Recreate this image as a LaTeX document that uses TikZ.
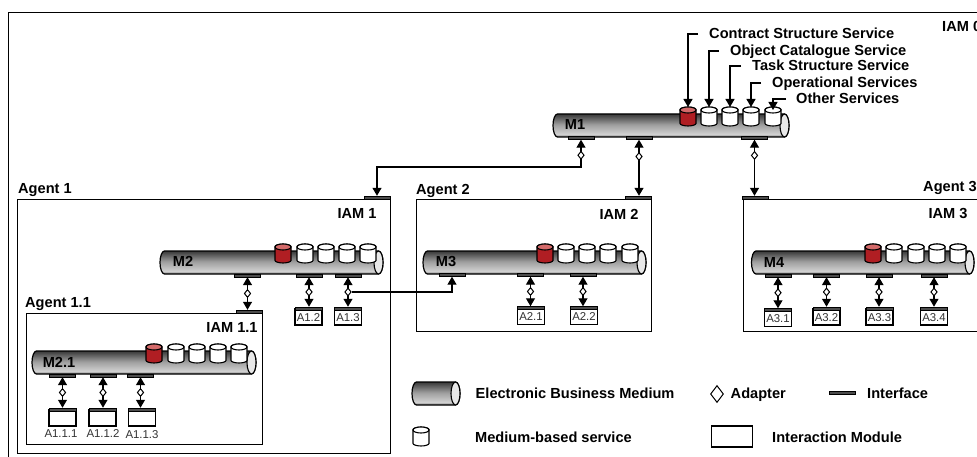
\documentclass[tikz,border=0pt]{standalone}
\usepackage{fontspec}
\setmainfont{Liberation Sans}
\usetikzlibrary{arrows.meta,shapes.geometric}
\definecolor{gA}{gray}{0.45}
\definecolor{gB}{gray}{0.82}
\definecolor{gC}{gray}{0.62}
\definecolor{gD}{gray}{0.22}
\definecolor{svcred}{HTML}{B01E23}
\definecolor{svcredtop}{HTML}{D46A6A}
\pgfdeclareverticalshading{tubeshade}{100bp}{color(0bp)=(gA);color(25bp)=(gA);color(31bp)=(gB);color(52bp)=(gC);color(75bp)=(gD);color(100bp)=(gD)}
\tikzset{
  lbl/.style={font=\bfseries\fontsize{14.6}{16}\selectfont,inner sep=0pt,text height=10.5pt,text depth=1pt},
  modlbl/.style={font=\fontsize{11.4}{13}\selectfont,inner sep=0pt,text height=8.2pt,text depth=0pt,text=black!80},
  box/.style={draw=black,line width=1.2pt},
  ifc/.style={draw=black,fill=gray!60!black,line width=.6pt,inner sep=0pt,minimum height=2.8pt,minimum width=26pt},
  module/.style={draw=black,fill=white,line width=1.1pt,inner sep=0pt,minimum width=27pt,minimum height=16pt,font=\fontsize{11.4}{13}\selectfont,text=black!80,text height=8.2pt,text depth=0pt},
  adapter/.style={diamond,draw=black,fill=white,line width=1pt,inner sep=0pt,minimum width=6.5pt,minimum height=8pt},
  conn/.style={draw=black,line width=1.2pt},
  both/.style={conn,{Triangle[length=8pt,width=9pt]}-{Triangle[length=8pt,width=9pt]}},
  tip/.style={conn,-{Triangle[length=8pt,width=9pt]}},
  tipstart/.style={conn,{Triangle[length=8pt,width=9pt]}-},
}
\newcommand{\tube}[4]{%
  \shade[shading=tubeshade,draw=black,line width=1.2pt]
    ({#1+4.5},#3) -- ({#2-4.5},#3) arc[start angle=-90,end angle=90,x radius=4.5,y radius={(#4-#3)/2}]
    -- ({#1+4.5},#4) arc[start angle=90,end angle=270,x radius=4.5,y radius={(#4-#3)/2}] -- cycle;
  \draw[line width=1.1pt,fill=gray!18] ({#2-4.5},{(#3+#4)/2}) ellipse[x radius=4.5,y radius={(#4-#3)/2}];
}
\newcommand{\cyl}[5]{% name, cx, top, body, lid
  \coordinate (#1) at (#2,#3);
  \draw[line width=1.1pt,fill=#4,rounded corners=.5pt]
    ({#2-8},{#3+3}) -- ({#2-8},{#3+16}) arc[start angle=180,end angle=0,x radius=8,y radius=3]
    -- ({#2+8},{#3+3}) arc[start angle=0,end angle=-180,x radius=8,y radius=3] -- cycle;
  \draw[line width=1.1pt,fill=#5] (#2,{#3+3}) ellipse[x radius=8,y radius=3];
}
\newcommand{\services}[7]{% prefix, x1..x5, top
  \cyl{#1a}{#2}{#7}{svcred}{svcredtop}
  \cyl{#1b}{#3}{#7}{white}{white}
  \cyl{#1c}{#4}{#7}{white}{white}
  \cyl{#1d}{#5}{#7}{white}{white}
  \cyl{#1e}{#6}{#7}{white}{white}
}
% interaction module with its interface bar on the top edge
\newcommand{\imod}[4]{%
  \node[module] (#1) at (#2,#3) {#4};
  \node[ifc,minimum width=27pt] (#1bar) at (#1.north) {};
}
% from-node, to-node, adapter name, adapter fractional position
\newcommand{\link}[4]{%
  \draw[both] (#1.south) -- (#1.south |- #2.north) node[adapter,pos=#4] (#3) {};
}
\begin{document}
\begin{tikzpicture}[x=1pt,y=-1pt]
\clip (0,0) rectangle (977,457);
\fill[white] (0,0) rectangle (977,457);
% boxes
\node[box,minimum width=990pt,minimum height=470pt,anchor=north west,inner sep=0pt] (iam0) at (8,12) {};
\node[box,minimum width=373pt,minimum height=254pt,anchor=north west,inner sep=0pt] (ag1) at (17,199) {};
\node[box,minimum width=236pt,minimum height=131pt,anchor=north west,inner sep=0pt] (ag11) at (26,313) {};
\node[box,minimum width=235pt,minimum height=132pt,anchor=north west,inner sep=0pt] (ag2) at (416,199) {};
\node[box,minimum width=260pt,minimum height=132pt,anchor=north west,inner sep=0pt] (ag3) at (743,199) {};
% box labels
\node[lbl,anchor=west] (tIam0) at (942,27) {IAM 0};
\node[lbl,anchor=west] (tAg1) at (18,189) {Agent 1};
\node[lbl,anchor=west] (tAg11) at (25,303) {Agent 1.1};
\node[lbl,anchor=west] (tAg2) at (416,190) {Agent 2};
\node[lbl,anchor=west] (tAg3) at (923,187) {Agent 3};
\node[lbl] (tIam1) at (357,214) {IAM 1};
\node[lbl] (tIam11) at (232,328) {IAM 1.1};
\node[lbl] (tIam2) at (619,215) {IAM 2};
\node[lbl] (tIam3) at (948,214) {IAM 3};
% media
\tube{553}{789}{114}{137}
\tube{160}{383}{251}{274}
\tube{32}{256}{351}{374}
\tube{423}{646}{251}{274}
\tube{751.5}{974}{251}{274}
\node[lbl] (tM1) at (575,125) {M1};
\node[lbl] (tM2) at (183,262) {M2};
\node[lbl] (tM21) at (59,363) {M2.1};
\node[lbl] (tM3) at (446,262) {M3};
\node[lbl] (tM4) at (774,263) {M4};
% services
\services{sa}{688}{709}{730}{751}{773}{107}
\services{sb}{283}{305}{326}{347}{368}{244}
\services{sc}{154}{176}{197}{218}{239}{344}
\services{sd}{545}{566}{587}{608}{630}{244}
\services{se}{873}{894}{916}{937}{958}{244}
% interfaces on media
\node[ifc] (i1a) at (581,138) {};
\node[ifc] (i1b) at (639,138) {};
\node[ifc] (i1c) at (754.5,138) {};
\node[ifc] (i2a) at (247.5,275.5) {};
\node[ifc] (i2b) at (309,275.5) {};
\node[ifc] (i2c) at (348,275.5) {};
\node[ifc] (i21a) at (62.5,375.5) {};
\node[ifc] (i21b) at (103,375.5) {};
\node[ifc] (i21c) at (140.5,375.5) {};
\node[ifc] (i3a) at (452,275) {};
\node[ifc] (i3b) at (530.5,275) {};
\node[ifc] (i3c) at (583,275) {};
\node[ifc] (i4a) at (778,275.5) {};
\node[ifc] (i4b) at (826.5,275.5) {};
\node[ifc] (i4c) at (879,275.5) {};
\node[ifc] (i4d) at (934,275.5) {};
% interfaces on agent boxes
\node[ifc] (e1) at (377,197.5) {};
\node[ifc] (e11) at (249,311.5) {};
\node[ifc] (e2) at (638,197.5) {};
\node[ifc] (e3) at (755.5,197.5) {};
% interaction modules
\imod{a12}{308.5}{317}{A1.2}
\imod{a13}{348}{317}{A1.3}
\imod{a21}{531}{316.5}{A2.1}
\imod{a22}{584}{316.5}{A2.2}
\imod{a31}{778}{318.5}{A3.1}
\imod{a32}{826.5}{317}{A3.2}
\imod{a33}{879.5}{317}{A3.3}
\imod{a34}{934}{317}{A3.4}
\imod{a111}{62.5}{418}{}
\imod{a112}{102.5}{418}{}
\imod{a113}{142}{418}{}
\node[modlbl] (t111) at (61,433) {A1.1.1};
\node[modlbl] (t112) at (103,433) {A1.1.2};
\node[modlbl] (t113) at (142,434) {A1.1.3};
% connectors
\draw[both] (i1a.south) -- (i1a.south |- 0,167) node[adapter,pos=.57] (d1a) {} -| (e1.north);
\link{i1b}{e2}{d1b}{.3}
\link{i1c}{e3}{d1c}{.28}
\link{i2a}{e11}{d2a}{.5}
\link{i2b}{a12bar}{d2b}{.5}
\link{i2c}{a13bar}{d2c}{.5}
\link{i21a}{a111bar}{d21a}{.5}
\link{i21b}{a112bar}{d21b}{.5}
\link{i21c}{a113bar}{d21c}{.5}
\link{i3b}{a21bar}{d3b}{.5}
\link{i3c}{a22bar}{d3c}{.5}
\link{i4a}{a31bar}{d4a}{.5}
\link{i4b}{a32bar}{d4b}{.5}
\link{i4c}{a33bar}{d4c}{.5}
\link{i4d}{a34bar}{d4d}{.5}
\draw[tipstart] (i3a.south) |- (d2c.east);
% service labels
\node[lbl,anchor=west] (lc) at (709,34) {Contract Structure Service};
\node[lbl,anchor=west] (lo) at (730,51) {Object Catalogue Service};
\node[lbl,anchor=west] (lt) at (752,66) {Task Structure Service};
\node[lbl,anchor=west] (lp) at (772,83) {Operational Services};
\node[lbl,anchor=west] (lx) at (796,99) {Other Services};
\draw[tip] (lc.west) ++(-11,0) -| (saa);
\draw[tip] (lo.west) ++(-11,0) -| (sab);
\draw[tip] (lt.west) ++(-11,0) -| (sac);
\draw[tip] (lp.west) ++(-11,0) -| (sad);
\draw[tip] (lx.west) ++(-10,0) -| ([yshift=-3pt]sae);
% legend
\tube{412}{460}{382}{405}
\node[lbl,anchor=west] (k1) at (475.5,394) {Electronic Business Medium};
\node[adapter,minimum width=13pt,minimum height=17pt] (k2) at (717,394) {};
\node[lbl,anchor=west] (k3) at (730.5,394) {Adapter};
\node[ifc] (k4) at (842,393) {};
\node[lbl,anchor=west] (k5) at (867,394) {Interface};
\cyl{k6}{421}{427}{white}{white}
\node[lbl,anchor=west] (k7) at (475,438) {Medium-based service};
\node[draw=black,line width=1.1pt,fill=white,minimum width=41pt,minimum height=21pt,inner sep=0pt] (k8) at (732,436.5) {};
\node[lbl,anchor=west] (k9) at (772,438) {Interaction Module};
\end{tikzpicture}
\end{document}
